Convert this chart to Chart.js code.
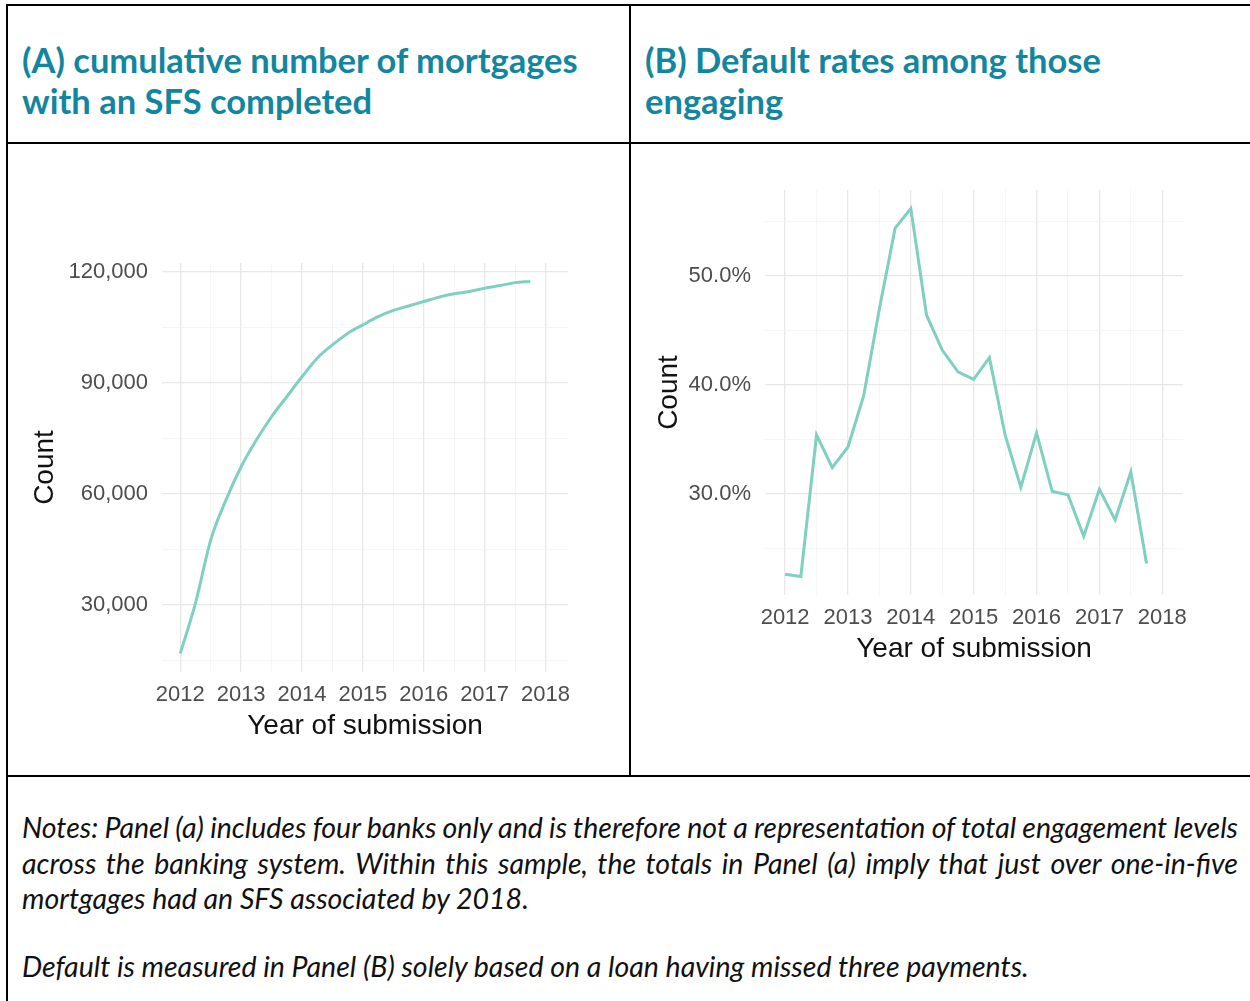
<!DOCTYPE html>
<html>
<head>
<meta charset="utf-8">
<script src="https://cdn.jsdelivr.net/npm/chart.js@4.4.0/dist/chart.umd.min.js"></script>
<style>
  html, body { margin: 0; padding: 0; background: #fff; }
  body { width: 1250px; height: 1001px; position: relative; overflow: hidden; }
  .rule { position: absolute; background: #000; }
  .head {
    position: absolute;
    font-family: Lato, "Open Sans", sans-serif;
    font-weight: 700;
    font-size: 34.5px;
    line-height: 41px;
    color: #13869f;
  }
  .note {
    position: absolute;
    left: 22px;
    font-family: Lato, "Open Sans", sans-serif;
    font-style: italic;
    font-size: 28.5px;
    line-height: 36px;
    color: #111;
    white-space: nowrap;
  }
  .chartBox { position: absolute; }
</style>
</head>
<body>
<!-- table rules -->
<div class="rule" style="left:6px; top:4px; width:1250px; height:2px;"></div>
<div class="rule" style="left:6px; top:4px; width:2px; height:1000px;"></div>
<div class="rule" style="left:6px; top:142px; width:1250px; height:2px;"></div>
<div class="rule" style="left:629px; top:4px; width:2px; height:773px;"></div>
<div class="rule" style="left:6px; top:775px; width:1250px; height:2px;"></div>

<div class="head" style="left:22px; top:39px;">(A) cumulative number of mortgages<br>with an SFS completed</div>
<div class="head" style="left:645px; top:39px;">(B) Default rates among those<br>engaging</div>

<div class="chartBox" style="left:8px; top:145px; width:621px; height:630px;"><canvas id="chartA"></canvas></div>
<div class="chartBox" style="left:631px; top:145px; width:619px; height:630px;"><canvas id="chartB"></canvas></div>

<div class="note fit" style="top:809px;"><span>Notes: Panel (a) includes four banks only and is therefore not a representation of total engagement levels</span></div>
<div class="note fit" style="top:845px;"><span>across the banking system. Within this sample, the totals in Panel (a) imply that just over one-in-five</span></div>
<div class="note" style="top:880px;"><span>mortgages had an SFS associated by 2018.</span></div>
<div class="note" style="top:948px;"><span>Default is measured in Panel (B) solely based on a loan having missed three payments.</span></div>

<script>
// quarters of submission
const quarters = [2012, 2012.25, 2012.5, 2012.75, 2013, 2013.25, 2013.5, 2013.75,
                  2014, 2014.25, 2014.5, 2014.75, 2015, 2015.25, 2015.5, 2015.75,
                  2016, 2016.25, 2016.5, 2016.75, 2017, 2017.25, 2017.5, 2017.75];

// panel A: cumulative mortgages with an SFS
const cumulativeCount = [16900, 30500, 47500, 58300, 67300, 74500, 80800, 86200,
                         91600, 96600, 100200, 103300, 105600, 107800, 109500, 110700,
                         111900, 113100, 114000, 114600, 115500, 116200, 117000, 117300];

// panel B: default rate (%)
const defaultRate = [22.6, 22.4, 35.4, 32.4, 34.3, 39.0, 47.0, 54.4,
                     56.2, 46.4, 43.2, 41.2, 40.5, 42.5, 35.4, 30.6,
                     35.6, 30.2, 29.9, 26.1, 30.4, 27.6, 32.0, 23.6];

// gridline positions (major + minor)
const yearTicks = [2012, 2012.5, 2013, 2013.5, 2014, 2014.5, 2015, 2015.5, 2016, 2016.5, 2017, 2017.5, 2018];
const countTicks = [15000, 30000, 45000, 60000, 75000, 90000, 105000, 120000];
const countMajor = [30000, 60000, 90000, 120000];
const rateTicks = [25, 30, 35, 40, 45, 50, 55];
const rateMajor = [30, 40, 50];

const lineColor = '#7fd0bf';
const tickFont = { family: '"Liberation Sans", Arial, sans-serif', size: 22 };
const titleFont = { family: '"Liberation Sans", Arial, sans-serif', size: 28 };

function toPoints(xs, ys) {
  return xs.map((x, i) => ({ x: x, y: ys[i] }));
}

function makeChart(id, cfg) {
  const ctx = document.getElementById(id).getContext('2d');
  return new Chart(ctx, {
    type: 'line',
    data: {
      datasets: [{
        data: toPoints(quarters, cfg.values),
        borderColor: lineColor,
        borderWidth: 3,
        pointRadius: 0,
        tension: 0,
        cubicInterpolationMode: cfg.smooth ? 'monotone' : 'default',
        fill: false,
      }],
    },
    options: {
      responsive: true,
      maintainAspectRatio: false,
      animation: false,
      layout: { padding: cfg.padding },
      plugins: { legend: { display: false }, tooltip: { enabled: false } },
      scales: {
        x: {
          type: 'linear',
          min: cfg.xMin,
          max: cfg.xMax,
          afterBuildTicks: (scale) => { scale.ticks = yearTicks.map(v => ({ value: v })); },
          afterFit: (scale) => { scale.height = 103; },
          border: { display: false },
          grid: {
            drawTicks: false,
            color: (c) => Number.isInteger(c.tick && c.tick.value) ? '#e8e8e8' : '#f2f2f2',
            lineWidth: (c) => Number.isInteger(c.tick && c.tick.value) ? 1.3 : 0.8,
          },
          ticks: {
            padding: 10,
            maxRotation: 0,
            autoSkip: false,
            color: '#4d4d4d',
            font: tickFont,
            callback: (v) => Number.isInteger(v) ? String(v) : '',
          },
          title: {
            display: true,
            text: 'Year of submission',
            color: '#111',
            font: titleFont,
            padding: { top: 0, bottom: 32 },
          },
        },
        y: {
          min: cfg.yMin,
          max: cfg.yMax,
          afterBuildTicks: (scale) => { scale.ticks = cfg.yTicks.map(v => ({ value: v })); },
          afterFit: (scale) => { scale.width = cfg.yWidth; },
          border: { display: false },
          grid: {
            drawTicks: false,
            color: (c) => cfg.yMajor.includes(c.tick && c.tick.value) ? '#e8e8e8' : '#f2f2f2',
            lineWidth: (c) => cfg.yMajor.includes(c.tick && c.tick.value) ? 1.3 : 0.8,
          },
          ticks: {
            padding: 14,
            autoSkip: false,
            color: '#4d4d4d',
            font: tickFont,
            callback: (v) => cfg.yMajor.includes(v) ? cfg.fmt(v) : '',
          },
          title: {
            display: true,
            text: 'Count',
            color: '#111',
            font: titleFont,
            padding: { top: cfg.yTitlePad, bottom: 0 },
          },
        },
      },
    },
  });
}

makeChart('chartA', {
  values: cumulativeCount,
  smooth: true,
  xMin: 2011.70, xMax: 2018.37,
  yMin: 11900, yMax: 122300,
  yTicks: countTicks, yMajor: countMajor,
  fmt: (v) => v.toLocaleString('en-US'),
  yWidth: 154,
  yTitlePad: 20,
  padding: { left: 0, top: 118, right: 61, bottom: 0 },
});

makeChart('chartB', {
  values: defaultRate,
  smooth: false,
  xMin: 2011.68, xMax: 2018.33,
  yMin: 20.7, yMax: 57.9,
  yTicks: rateTicks, yMajor: rateMajor,
  fmt: (v) => v.toFixed(1) + '%',
  yWidth: 134,
  yTitlePad: 21,
  padding: { left: 0, top: 45, right: 67, bottom: 77 },
});

// stretch or squeeze justified note lines to the full text width
document.querySelectorAll('.note.fit').forEach((el) => {
  const span = el.querySelector('span');
  const target = 1216;
  const words = span.textContent.split(' ').length - 1;
  const natural = span.getBoundingClientRect().width;
  span.style.wordSpacing = ((target - natural) / words) + 'px';
});
</script>
</body>
</html>
